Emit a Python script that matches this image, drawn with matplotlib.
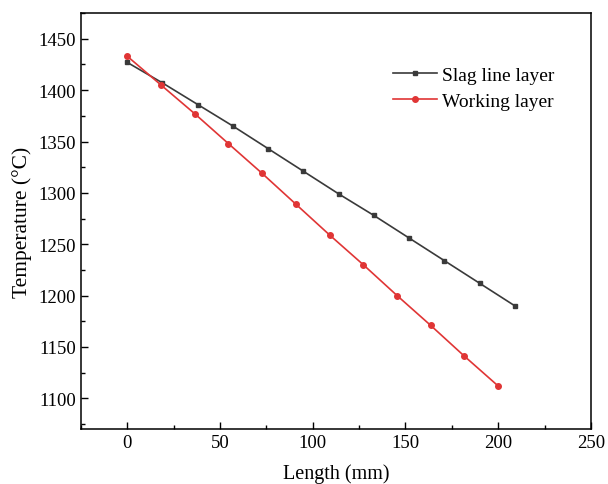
import matplotlib.pyplot as plt
from matplotlib.ticker import MultipleLocator

plt.rcParams['font.family'] = ['Liberation Serif', 'DejaVu Serif']

# data
slag_x = [0, 19, 38, 57, 76, 95, 114, 133, 152, 171, 190, 209]
slag_t = [1427, 1407, 1386, 1365, 1343, 1321, 1299, 1278, 1256, 1234, 1212, 1190]
work_x = [0, 18.2, 36.4, 54.5, 72.7, 90.9, 109.1, 127.3, 145.5, 163.6, 181.8, 200]
work_t = [1433, 1405, 1377, 1348, 1319, 1289, 1259, 1230, 1200, 1171, 1141, 1112]

fig = plt.figure(figsize=(6.08, 4.85), dpi=100)
ax = fig.add_axes([0.133, 0.113, 0.839, 0.858])

ax.plot(slag_x, slag_t, color='#3a3a3a', marker='s', markersize=3.5, linewidth=1.2, label='Slag line layer')
ax.plot(work_x, work_t, color='#e03535', marker='o', markersize=4, linewidth=1.2, label='Working layer')

ax.set_xlim(-25, 250)
ax.set_ylim(1070, 1475)
ax.xaxis.set_major_locator(MultipleLocator(50))
ax.xaxis.set_minor_locator(MultipleLocator(25))
ax.yaxis.set_major_locator(MultipleLocator(50))
ax.yaxis.set_minor_locator(MultipleLocator(25))
ax.tick_params(which='both', direction='in', top=False, right=False, labelsize=13.5, width=1)
ax.tick_params(which='major', length=5)
ax.tick_params(which='minor', length=3)
for s in ax.spines.values():
    s.set_linewidth(1.1)

ax.set_xlabel('Length (mm)', fontsize=14.5, labelpad=9)
ax.set_ylabel('Temperature (°C)', fontsize=15.5, labelpad=5)
ax.legend(loc='upper right', bbox_to_anchor=(0.963, 0.915), frameon=False, fontsize=14,
          handlelength=2.3, handletextpad=0.25, labelspacing=0.45)

plt.savefig('out.png', dpi=100)
